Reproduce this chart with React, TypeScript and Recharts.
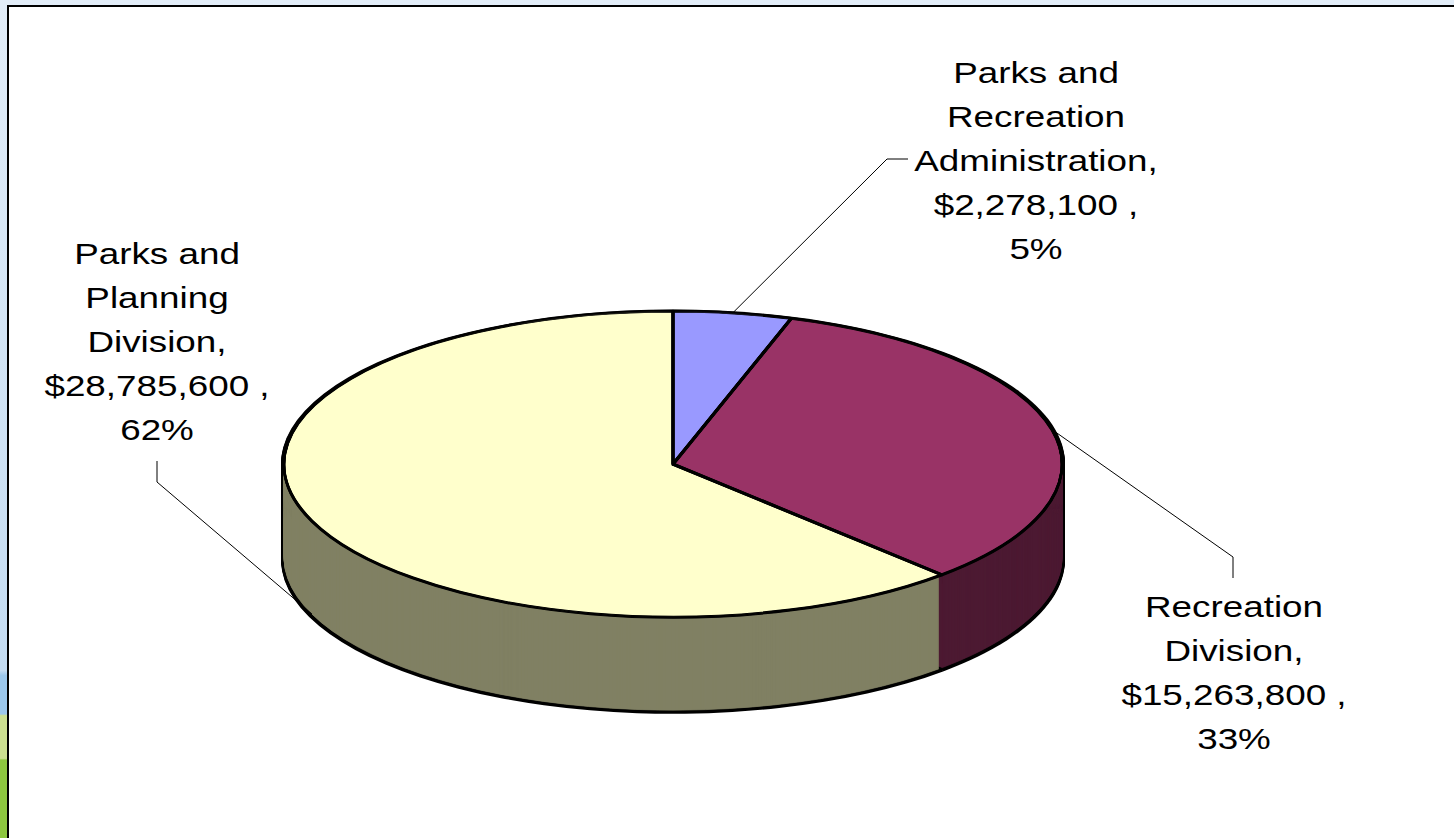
import React from 'react';
import { PieChart, Pie, Cell } from 'recharts';

// budget by division
const categories = ['Parks and Recreation Administration', 'Recreation Division', 'Parks and Planning Division'];
const amounts = [2278100, 15263800, 28785600];
const topColors = ['#9999FF', '#993366', '#FFFFCC'];
const sideColors = ['#4D4D80', '#4D1A33', '#808064'];

const rows = categories.map((name, i) => ({ name, value: amounts[i] }));

// ellipse geometry of the fake 3d pie (page px)
const CX = 673;
const CY = 464;
const RX = 389;
const RY = 153;
const DEPTH = 93;
const K = RY / RX;

// inner svg of the squashed pie (unscaled px)
const PC = RX + 8;
const SW = PC * 2;
const SH = Math.ceil(PC * 2 + (DEPTH + 4) / K + 8);

// where each label sits: text centre x, first baseline, leader elbow and end
const labelLayout = [
  { x: 1036, y: 83, elbow: [887, 159], end: [908, 159] },
  { x: 1234, y: 617, elbow: [1233, 557], end: [1233, 578] },
  { x: 157, y: 264, elbow: [157, 482], end: [157, 461] },
];

const LINE_H = 44;
const FONT = 29;
const STRETCH = 1.27;

const wrapName = (name: string, max: number) => {
  const words = (name + ',').split(' ');
  const lines: string[] = [];
  let cur = '';
  words.forEach((w) => {
    const next = cur ? cur + ' ' + w : w;
    if (next.length > max && cur) {
      lines.push(cur);
      cur = w;
    } else {
      cur = next;
    }
  });
  if (cur) lines.push(cur);
  return lines;
};

const renderLabel = (props: any) => {
  const { cx, cy, midAngle, index, value, percent, name } = props;
  const rad = (midAngle * Math.PI) / 180;
  const ax = cx + RX * Math.cos(rad);
  let ay = cy - RY * Math.sin(rad);
  // front half: the label points at the bottom of the side wall
  if (Math.sin(rad) < 0) ay += DEPTH;
  const lay = labelLayout[index];
  const lines = [
    ...wrapName(name, 12),
    `$${Number(value).toLocaleString('en-US')} ,`,
    `${Math.round(percent * 100)}%`,
  ];
  return (
    <g key={'lbl' + index}>
      <polyline
        points={`${ax},${ay} ${lay.elbow[0]},${lay.elbow[1]} ${lay.end[0]},${lay.end[1]}`}
        fill="none"
        stroke="#000"
        strokeWidth={1}
      />
      {lines.map((t, j) => (
        <text
          key={j}
          x={0}
          y={0}
          transform={`translate(${lay.x},${lay.y + j * LINE_H}) scale(${STRETCH},1)`}
          textAnchor="middle"
          fontSize={FONT}
          fontFamily="'Liberation Sans', Arial, sans-serif"
          fill="#000"
        >
          {t}
        </text>
      ))}
    </g>
  );
};

// vertical offsets in page px
const rimSteps = Array.from({ length: DEPTH + 4 }, (_, i) => DEPTH + 2.5 - i);
const sideSteps = Array.from({ length: DEPTH * 2 }, (_, i) => DEPTH - i / 2);
const edgeSteps = [-1, -0.5, 0, 0.5, 1];

const basePie = {
  data: rows,
  dataKey: 'value',
  cx: PC,
  innerRadius: 0,
  startAngle: 90,
  endAngle: -270,
  isAnimationActive: false,
};

export default function App() {
  return (
    <div
      style={{
        position: 'absolute',
        left: 0,
        top: 0,
        width: 1454,
        height: 838,
        overflow: 'hidden',
        background:
          'linear-gradient(to bottom, #E2EDF8 0%, #C4DCF2 80%, #9CC8EC 80.6%, #9CC8EC 85.2%, #CCE091 85.4%, #CCE091 90.5%, #8DC63F 90.7%, #8DC63F 100%)',
        fontFamily: "'Liberation Sans', Arial, sans-serif",
      }}
    >
      <div
        style={{
          position: 'absolute',
          left: 7,
          top: 5,
          width: 1470,
          height: 860,
          border: '2px solid #000',
          background: '#fff',
          boxSizing: 'border-box',
        }}
      />
      <div
        style={{
          position: 'absolute',
          left: CX - PC,
          top: CY - PC * K,
          width: SW,
          height: SH,
          transform: `scaleY(${K})`,
          transformOrigin: 'top left',
        }}
      >
        <PieChart width={SW} height={SH} margin={{ top: 0, right: 0, bottom: 0, left: 0 }}>
          {rimSteps.map((d) => (
            <Pie key={'rim' + d} {...basePie} cy={PC + d / K} outerRadius={RX + 3} stroke="none">
              {rows.map((r, i) => (
                <Cell key={i} fill="#000" />
              ))}
            </Pie>
          ))}
          {sideSteps.map((d) => (
            <Pie key={'side' + d} {...basePie} cy={PC + d / K} outerRadius={RX} paddingAngle={0.75}>
              {rows.map((r, i) => (
                <Cell key={i} fill={sideColors[i]} stroke={sideColors[i]} strokeWidth={1} />
              ))}
            </Pie>
          ))}
          <Pie {...basePie} cy={PC} outerRadius={RX} stroke="none">
            {rows.map((r, i) => (
              <Cell key={i} fill={topColors[i]} stroke="none" />
            ))}
          </Pie>
          {edgeSteps.map((d) => (
            <Pie key={'edge' + d} {...basePie} cy={PC + d / K} outerRadius={RX}>
              {rows.map((r, i) => (
                <Cell key={i} fill="none" stroke="#000" strokeWidth={2.4} strokeLinejoin="round" />
              ))}
            </Pie>
          ))}
        </PieChart>
      </div>
      <div style={{ position: 'absolute', left: 0, top: 0, width: 1454, height: 838 }}>
        <PieChart width={1454} height={838} margin={{ top: 0, right: 0, bottom: 0, left: 0 }}>
          <Pie
            {...basePie}
            cx={CX}
            cy={CY}
            outerRadius={RX}
            fill="none"
            stroke="none"
            label={renderLabel}
            labelLine={false}
          >
            {rows.map((r, i) => (
              <Cell key={i} fill="none" stroke="none" />
            ))}
          </Pie>
        </PieChart>
      </div>
    </div>
  );
}
